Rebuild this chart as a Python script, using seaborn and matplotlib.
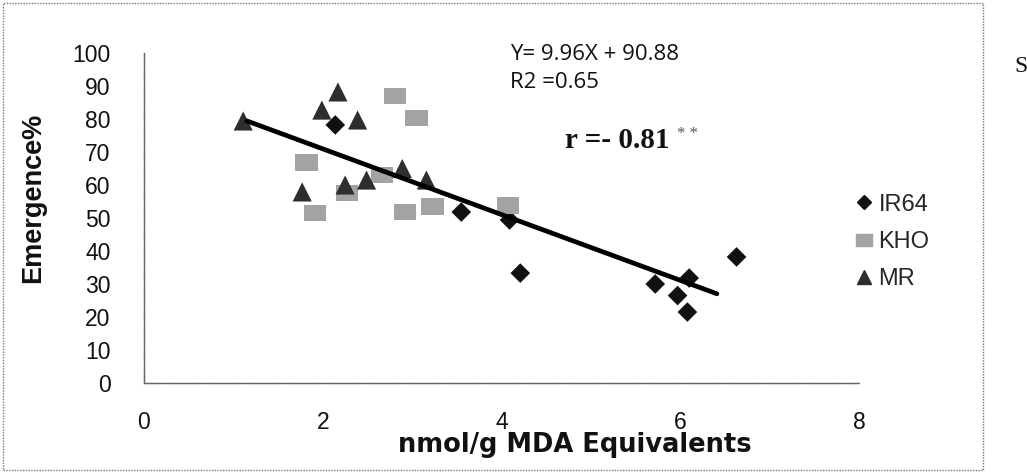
import matplotlib
matplotlib.use('Agg')
import matplotlib.pyplot as plt
import seaborn as sns
import pandas as pd
import numpy as np
from matplotlib.patches import Rectangle
from matplotlib.lines import Line2D

# ---- data ----
ir64_x = [2.14, 3.55, 4.09, 4.21, 5.72, 5.97, 6.08, 6.10, 6.63]
ir64_y = [78.2, 51.8, 49.4, 33.3, 30.0, 26.5, 21.5, 31.8, 38.2]
kho_x = [1.82, 1.91, 2.27, 2.66, 2.81, 2.92, 3.05, 3.23, 4.07]
kho_y = [66.7, 51.5, 57.6, 63.0, 87.0, 51.8, 80.3, 53.6, 53.8]
mr_x = [1.11, 1.77, 1.99, 2.17, 2.25, 2.39, 2.49, 2.89, 3.16]
mr_y = [79.4, 57.9, 82.7, 88.2, 60.0, 79.7, 61.5, 65.0, 61.5]
series_names = ["IR64", "KHO", "MR"]
trend_slope = -9.96
trend_intercept = 90.88
trend_x_range = [1.15, 6.41]
x_ticks = [0, 2, 4, 6, 8]
y_ticks = [0, 10, 20, 30, 40, 50, 60, 70, 80, 90, 100]
equation_text = "Y= 9.96X + 90.88"
r2_text = "R2 =0.65"
r_text = "r =- 0.81"

sns.set_style("white")
plt.rcParams['font.family'] = ['Liberation Sans', 'DejaVu Sans']

W, H = 1027, 472
fig = plt.figure(figsize=(W / 100, H / 100), dpi=100)
ax = fig.add_axes([144 / W, 1 - 383 / H, (859 - 144) / W, (383 - 53) / H])

rect_marker = [(-1, -0.75), (1, -0.75), (1, 0.75), (-1, 0.75), (-1, -0.75)]

df_ir = pd.DataFrame({"x": ir64_x, "y": ir64_y})
df_kh = pd.DataFrame({"x": kho_x, "y": kho_y})
df_mr = pd.DataFrame({"x": mr_x, "y": mr_y})

sns.scatterplot(data=df_ir, x="x", y="y", ax=ax, marker="D", s=100,
                color="#111111", edgecolor="none", zorder=3)
sns.scatterplot(data=df_kh, x="x", y="y", ax=ax, marker=rect_marker, s=260,
                color="#a3a3a3", edgecolor="none", zorder=3)
sns.scatterplot(data=df_mr, x="x", y="y", ax=ax, marker="^", s=190,
                color="#2e2e2e", edgecolor="none", zorder=4)

tx = np.array(trend_x_range)
df_tr = pd.DataFrame({"x": tx, "y": trend_slope * tx + trend_intercept})
sns.lineplot(data=df_tr, x="x", y="y", ax=ax, color="black", lw=3.4, zorder=5)

ax.set_xlim(0, 8)
ax.set_ylim(0, 100)
ax.set_xticks(x_ticks)
ax.set_yticks(y_ticks)
ax.set_xticklabels([str(v) for v in x_ticks])
ax.set_yticklabels([str(v) for v in y_ticks])
ax.set_xlabel("")
ax.set_ylabel("")
for side in ["top", "right"]:
    ax.spines[side].set_visible(False)
for side in ["left", "bottom"]:
    ax.spines[side].set_color("#666666")
    ax.spines[side].set_linewidth(1.0)
    ax.spines[side].set_linestyle((0, (1, 0.6)))
ax.tick_params(axis="both", direction="inout", length=6, width=0.8,
               color="#666666", labelsize=16.5, labelcolor="#111111")
ax.tick_params(axis="y", pad=21)
ax.tick_params(axis="x", pad=17)

# axis labels
fig.text(33 / W, 1 - 198 / H, "Emergence%", rotation=90, ha="center",
         va="center", fontsize=19.5, fontweight="bold", color="#111111")
fig.text(575 / W, 1 - 445 / H, "nmol/g MDA Equivalents", ha="center",
         va="center", fontsize=18.5, fontweight="bold", color="#111111",
         family="DejaVu Sans")

# annotations
fig.text(510 / W, 1 - 55 / H, equation_text, ha="left", va="center",
         fontsize=16, family="Open Sans", color="#111111")
fig.text(510 / W, 1 - 83 / H, r2_text, ha="left", va="center",
         fontsize=16, family="Open Sans", color="#111111")
fig.text(565 / W, 1 - 141 / H, r_text, ha="left", va="center",
         fontsize=21, family="Liberation Serif", fontweight="bold",
         color="#111111")
fig.text(677 / W, 1 - 134 / H, "* *", ha="left", va="center",
         fontsize=12, family="Liberation Serif", color="#555555")
fig.text(1014 / W, 1 - 66 / H, "S", ha="left", va="center",
         fontsize=17, family="Liberation Serif", color="#111111")

# legend
handles = [
    Line2D([], [], ls="none", marker="D", color="#111111", markersize=7),
    Line2D([], [], ls="none", marker=rect_marker, color="#a3a3a3", markersize=11),
    Line2D([], [], ls="none", marker="^", color="#2e2e2e", markersize=10),
]
fig.legend(handles, series_names, loc="center left",
           bbox_to_anchor=(856 / W, 1 - 242 / H), frameon=False,
           fontsize=17, handlelength=0.7, handletextpad=0.25,
           labelspacing=0.65, borderaxespad=0, borderpad=0)

# outer chart frame
fig.patches.append(Rectangle((3 / W, 2 / H), (983 - 3) / W, (469 - 2) / H,
                             transform=fig.transFigure, fill=False,
                             edgecolor="#777777", lw=1.0,
                             linestyle=(0, (1, 1))))

fig.savefig("out.png", dpi=100)
